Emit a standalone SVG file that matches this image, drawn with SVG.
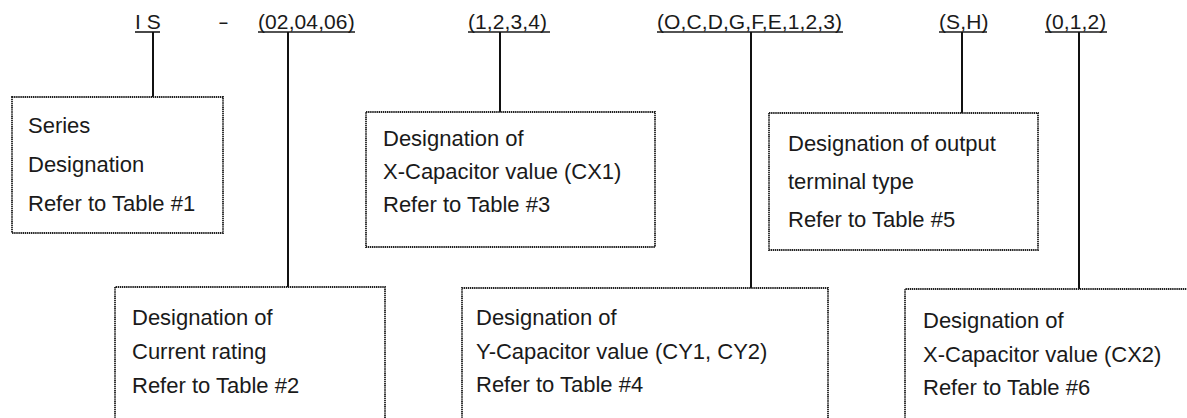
<svg xmlns="http://www.w3.org/2000/svg" width="1187" height="418" viewBox="0 0 1187 418">
<style>
.lbl{font-family:"Liberation Sans",Arial,sans-serif;font-size:21px;letter-spacing:0.1px;fill:#1a1a1a}
.txt{font-family:"Liberation Sans",Arial,sans-serif;font-size:22px;fill:#1a1a1a}
.ul{stroke:#1a1a1a;stroke-width:1.6}
.box{fill:none;stroke:#1e1e1e;stroke-width:1.8;stroke-dasharray:1.4 0.7}
.con{stroke:#111;stroke-width:2;fill:none}
</style>
<rect width="1187" height="418" fill="#fff"/>
<g id="labels">
<text class="lbl" x="135" y="29">I S</text><line class="ul" x1="135" y1="32" x2="160" y2="32"/>
<text class="lbl" x="218" y="29" textLength="11" lengthAdjust="spacingAndGlyphs">-</text>
<text class="lbl" x="258" y="29">(02,04,06)</text><line class="ul" x1="258" y1="32" x2="355" y2="32"/>
<text class="lbl" x="468" y="29">(1,2,3,4)</text><line class="ul" x1="468" y1="32" x2="550" y2="32"/>
<text class="lbl" x="657" y="29">(O,C,D,G,F,E,1,2,3)</text><line class="ul" x1="657" y1="32" x2="843" y2="32"/>
<text class="lbl" x="939" y="29">(S,H)</text><line class="ul" x1="939" y1="32" x2="987" y2="32"/>
<text class="lbl" x="1045" y="29">(0,1,2)</text><line class="ul" x1="1045" y1="32" x2="1107" y2="32"/>
</g>
<g id="connectors">
<line class="con" x1="153" y1="32" x2="153" y2="97"/>
<line class="con" x1="288" y1="32" x2="288" y2="287"/>
<line class="con" x1="500" y1="32" x2="500" y2="112"/>
<line class="con" x1="751" y1="32" x2="751" y2="288"/>
<line class="con" x1="962" y1="32" x2="962" y2="113"/>
<line class="con" x1="1079" y1="32" x2="1079" y2="289"/>
</g>
<g id="box1">
<rect class="box" x="12" y="97" width="211" height="136"/>
<text class="txt" x="28" y="133">Series</text>
<text class="txt" x="28" y="172">Designation</text>
<text class="txt" x="28" y="211">Refer to Table #1</text>
</g>
<g id="box2">
<path class="box" d="M115,425 V287 H385 V425"/>
<text class="txt" x="132" y="325">Designation of</text>
<text class="txt" x="132" y="359">Current rating</text>
<text class="txt" x="132" y="393">Refer to Table #2</text>
</g>
<g id="box3">
<rect class="box" x="366" y="112" width="289" height="135"/>
<text class="txt" x="383" y="146">Designation of</text>
<text class="txt" x="383" y="179">X-Capacitor value (CX1)</text>
<text class="txt" x="383" y="212">Refer to Table #3</text>
</g>
<g id="box4">
<path class="box" d="M462,425 V288 H828 V425"/>
<text class="txt" x="476" y="325">Designation of</text>
<text class="txt" x="476" y="359">Y-Capacitor value (CY1, CY2)</text>
<text class="txt" x="476" y="392">Refer to Table #4</text>
</g>
<g id="box5">
<rect class="box" x="769" y="113" width="269" height="137"/>
<text class="txt" x="788" y="151">Designation of output</text>
<text class="txt" x="788" y="189">terminal type</text>
<text class="txt" x="788" y="227">Refer to Table #5</text>
</g>
<g id="box6">
<path class="box" d="M905,425 V289 H1195"/>
<text class="txt" x="923" y="328">Designation of</text>
<text class="txt" x="923" y="362">X-Capacitor value (CX2)</text>
<text class="txt" x="923" y="395">Refer to Table #6</text>
</g>
</svg>
